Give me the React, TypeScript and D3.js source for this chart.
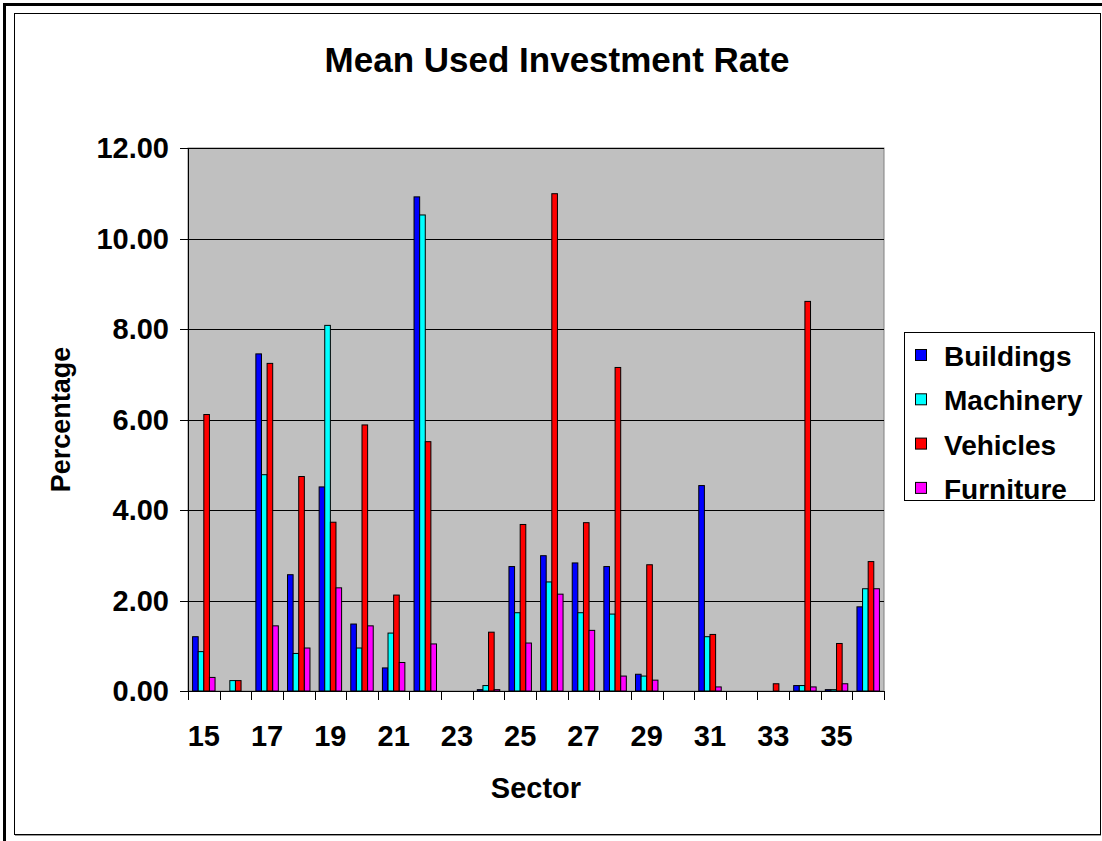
import * as d3 from "d3";

const sectors = ["15", "16", "17", "18", "19", "20", "21", "22", "23", "24", "25", "26", "27", "28", "29", "30", "31", "32", "33", "34", "35", "36"];
const seriesNames = ["Buildings", "Machinery", "Vehicles", "Furniture"];
const buildings = [1.2, 0, 7.45, 2.57, 4.51, 1.48, 0.51, 10.92, 0, 0.03, 2.75, 2.99, 2.83, 2.75, 0.37, 0, 4.54, 0, 0, 0.12, 0.03, 1.86];
const machinery = [0.87, 0.23, 4.78, 0.83, 8.08, 0.95, 1.28, 10.52, 0, 0.12, 1.73, 2.41, 1.73, 1.7, 0.33, 0, 1.2, 0, 0, 0.12, 0.03, 2.26];
const vehicles = [6.11, 0.23, 7.24, 4.74, 3.73, 5.88, 2.12, 5.51, 0, 1.3, 3.68, 10.99, 3.72, 7.15, 2.79, 0, 1.25, 0, 0.16, 8.61, 1.05, 2.86];
const furniture = [0.3, 0, 1.44, 0.95, 2.28, 1.44, 0.63, 1.04, 0, 0.03, 1.06, 2.14, 1.34, 0.33, 0.24, 0, 0.09, 0, 0, 0.09, 0.16, 2.26];
const yTicks = [0, 2, 4, 6, 8, 10, 12];
const colors = ["#0000FF", "#00FFFF", "#FF0000", "#FF00FF"];

const font = "'Liberation Sans', Arial, Helvetica, sans-serif";

const App = () => {
  const width = 1102;
  const height = 841;
  const plot = { left: 188, right: 884, top: 148, bottom: 691 };

  const x = d3.scaleBand().domain(sectors).range([plot.left, plot.right]).padding(0);
  const groupW = x.bandwidth() * 0.71;
  const xi = d3.scaleBand().domain(seriesNames).range([0, groupW]).padding(0);
  const y = d3.scaleLinear().domain([0, 12]).range([plot.bottom, plot.top]);

  const allSeries = [buildings, machinery, vehicles, furniture];

  return (
    <svg
      width={width}
      height={height}
      style={{ position: "absolute", left: 0, top: 0, background: "#fff" }}
      fontFamily={font}
    >
      {/* frames */}
      <rect x={4.5} y={4.5} width={1110} height={850} fill="none" stroke="#000" strokeWidth={3} />
      <rect x={14.5} y={13.5} width={1086} height={821} fill="#fff" stroke="#000" strokeWidth={1} />
      <line x1={15} y1={835.5} x2={1101} y2={835.5} stroke="#999" />

      <text x={557} y={72} textAnchor="middle" fontSize={35} fontWeight="bold">
        Mean Used Investment Rate
      </text>

      {/* plot area */}
      <rect x={plot.left} y={plot.top} width={plot.right - plot.left} height={plot.bottom - plot.top} fill="#C0C0C0" stroke="#808080" strokeWidth={1} />
      {yTicks.map((t) => (
        <g key={t}>
          {t > 0 && (
            <line x1={plot.left} x2={plot.right} y1={Math.round(y(t)) + 0.5} y2={Math.round(y(t)) + 0.5} stroke="#000" strokeWidth={1} />
          )}
          <line x1={180} x2={plot.left} y1={Math.round(y(t)) + 0.5} y2={Math.round(y(t)) + 0.5} stroke="#000" />
          <text x={169} y={y(t)} dy="0.36em" textAnchor="end" fontSize={29} fontWeight="bold">
            {t.toFixed(2)}
          </text>
        </g>
      ))}

      {/* bars */}
      {allSeries.map((vals, si) => (
        <g key={seriesNames[si]} fill={colors[si]} stroke="#000" strokeWidth={1}>
          {vals.map((v, i) =>
            v > 0 ? (
              <rect
                key={i}
                x={(x(sectors[i]) as number) + (x.bandwidth() - groupW) / 2 + (xi(seriesNames[si]) as number)}
                y={y(v)}
                width={xi.bandwidth()}
                height={plot.bottom - y(v)}
              />
            ) : null
          )}
        </g>
      ))}

      {/* axes */}
      <line x1={plot.left + 0.5} x2={plot.left + 0.5} y1={plot.top} y2={plot.bottom} stroke="#000" />
      <line x1={plot.left} x2={plot.right + 1} y1={plot.bottom + 0.5} y2={plot.bottom + 0.5} stroke="#000" />
      {[...sectors, "end"].map((s, i) => {
        const xx = Math.round(plot.left + i * x.bandwidth()) + 0.5;
        return <line key={s} x1={xx} x2={xx} y1={plot.bottom} y2={plot.bottom + 9} stroke="#000" />;
      })}
      {sectors.map((s, i) =>
        i % 2 === 0 ? (
          <text key={s} x={(x(s) as number) + x.bandwidth() / 2} y={746} textAnchor="middle" fontSize={29} fontWeight="bold">
            {s}
          </text>
        ) : null
      )}

      <text x={(plot.left + plot.right) / 2} y={798} textAnchor="middle" fontSize={29} fontWeight="bold">
        Sector
      </text>
      <text transform={`translate(70,${(plot.top + plot.bottom) / 2}) rotate(-90)`} textAnchor="middle" fontSize={27} fontWeight="bold">
        Percentage
      </text>

      {/* legend */}
      <rect x={904.5} y={332.5} width={190} height={168} fill="#fff" stroke="#000" />
      {seriesNames.map((n, i) => (
        <g key={n} transform={`translate(0,${356 + i * 44.3})`}>
          <rect x={915.5} y={-6.5} width={11} height={11} fill={colors[i]} stroke="#000" />
          <text x={944} y={0} dy="0.36em" fontSize={28} fontWeight="bold">
            {n}
          </text>
        </g>
      ))}
    </svg>
  );
};

export default App;
